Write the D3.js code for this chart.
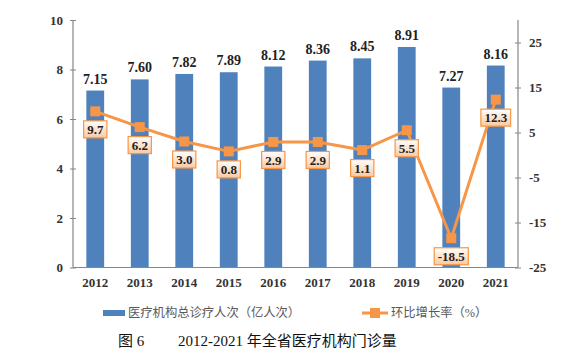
<!DOCTYPE html>
<html><head><meta charset="utf-8">
<script src="https://cdn.jsdelivr.net/npm/d3@7"></script>
<style>
body{margin:0;background:#fff;}
svg{display:block;}
</style></head>
<body>
<svg id="chart" width="586" height="353"></svg>
<script>
const years = ["2012","2013","2014","2015","2016","2017","2018","2019","2020","2021"];
const visits = [7.15,7.60,7.82,7.89,8.12,8.36,8.45,8.91,7.27,8.16];
const growth = [9.7,6.2,3.0,0.8,2.9,2.9,1.1,5.5,-18.5,12.3];
const leftTicks = [0,2,4,6,8,10];
const rightTicks = [-25,-15,-5,5,15,25];
const seriesNames = ["医疗机构总诊疗人次（亿人次）","环比增长率（%）"];
const captionFig = "图 6";
const captionText = "2012-2021 年全省医疗机构门诊量";

const svg = d3.select("#chart");
const numFont = "'Liberation Serif','Times New Roman',serif";
const cjkFont = "'Liberation Serif','Noto Sans CJK SC',serif";
const blue = "#4F81BD", orange = "#F79646";

const pL = 73, pR = 518, pT = 20, pB = 267.5;
const x = d3.scaleBand().domain(years).range([pL, pR]).paddingInner(0.6).paddingOuter(0.3);
const yL = d3.scaleLinear().domain([0,10]).range([pB, pT]);
const yR = d3.scaleLinear().domain([-25,30]).range([pB, pT]);
const cx = d => x(d) + x.bandwidth()/2;

const defs = svg.append("defs");
const grad = defs.append("linearGradient").attr("id","lblGrad").attr("x1",0).attr("y1",0).attr("x2",0).attr("y2",1);
grad.append("stop").attr("offset","0%").attr("stop-color","#ffffff");
grad.append("stop").attr("offset","100%").attr("stop-color","#FAC9A0");

// bars
svg.append("g").selectAll("rect").data(years).join("rect")
  .attr("x", d => x(d)).attr("width", x.bandwidth())
  .attr("y", (d,i) => yL(visits[i])).attr("height", (d,i) => yL(0) - yL(visits[i]))
  .attr("fill", blue);

// axes
const axisColor = "#868686";
const fmt = d => String(d);
const gL = svg.append("g").attr("transform", `translate(${pL},0)`)
  .call(d3.axisLeft(yL).tickValues(leftTicks).tickSize(0).tickPadding(10).tickFormat(fmt));
const gR = svg.append("g").attr("transform", `translate(${pR},0)`)
  .call(d3.axisRight(yR).tickValues(rightTicks).tickSize(0).tickPadding(11).tickFormat(fmt));
const gB = svg.append("g").attr("transform", `translate(0,${pB})`)
  .call(d3.axisBottom(x).tickSize(0).tickPadding(10));
[gL,gR,gB].forEach(g => {
  g.select(".domain").attr("stroke", axisColor).attr("stroke-width",1.2);
  g.selectAll("text").attr("font-family", numFont).attr("font-size", 13).attr("font-weight","bold").attr("fill","#333");
});
gL.selectAll(".tick").append("line").attr("x1",-3).attr("x2",3).attr("stroke",axisColor);
gR.selectAll(".tick").append("line").attr("x1",-3).attr("x2",3).attr("stroke",axisColor);
gL.select(".domain").attr("d", `M0,${pT}V${pB}`);
gR.select(".domain").attr("d", `M0,${pT}V${pB}`);
gB.select(".domain").attr("d", `M${pL},0H${pR}`);

// bar labels
svg.append("g").selectAll("text").data(years).join("text")
  .attr("x", d => cx(d)).attr("y", (d,i) => yL(visits[i]) - 7)
  .attr("text-anchor","middle").attr("font-family", numFont).attr("font-size",14).attr("font-weight","bold").attr("fill","#222")
  .text((d,i) => visits[i].toFixed(2));

// line
const line = d3.line().x(d => cx(d)).y((d,i) => yR(growth[i]));
svg.append("path").datum(years).attr("d", line).attr("fill","none").attr("stroke",orange).attr("stroke-width",3).attr("stroke-linejoin","round");
svg.append("g").selectAll("rect").data(years).join("rect")
  .attr("x", d => cx(d) - 5).attr("y", (d,i) => yR(growth[i]) - 5)
  .attr("width",10).attr("height",10).attr("fill",orange);

// line labels
const lg = svg.append("g").selectAll("g").data(years).join("g")
  .attr("transform", (d,i) => `translate(${cx(d)},${yR(growth[i]) + 18})`);
lg.each(function(d,i){
  const g = d3.select(this);
  const t = g.append("text").attr("text-anchor","middle").attr("dy","0.35em")
    .attr("font-family", numFont).attr("font-size",13).attr("font-weight","bold").attr("fill","#222")
    .text(growth[i].toFixed(1));
  const w = t.node().getComputedTextLength() + 7;
  g.insert("rect","text").attr("x",-w/2).attr("y",-8.5).attr("width",w).attr("height",17)
    .attr("fill","url(#lblGrad)").attr("stroke",orange).attr("stroke-width",1.2);
});

// legend
const legY = 313;
svg.append("line").attr("x1",103).attr("x2",125).attr("y1",legY).attr("y2",legY).attr("stroke",blue).attr("stroke-width",6);
svg.append("text").attr("x",128).attr("y",legY).attr("dy","0.35em").attr("font-family",cjkFont).attr("font-size",12.3).attr("fill","#595959").text(seriesNames[0]);
svg.append("line").attr("x1",362).attr("x2",388).attr("y1",legY).attr("y2",legY).attr("stroke",orange).attr("stroke-width",3);
svg.append("rect").attr("x",370).attr("y",legY-5).attr("width",10).attr("height",10).attr("fill",orange);
svg.append("text").attr("x",391).attr("y",legY).attr("dy","0.35em").attr("font-family",cjkFont).attr("font-size",12.3).attr("fill","#595959").text(seriesNames[1]);

// caption
svg.append("text").attr("x",118).attr("y",341).attr("dy","0.35em").attr("font-family",cjkFont).attr("font-size",15).attr("fill","#111").text(captionFig);
svg.append("text").attr("x",178).attr("y",341).attr("dy","0.35em").attr("font-family",cjkFont).attr("font-size",15).attr("fill","#111").text(captionText);
</script>
</body></html>
